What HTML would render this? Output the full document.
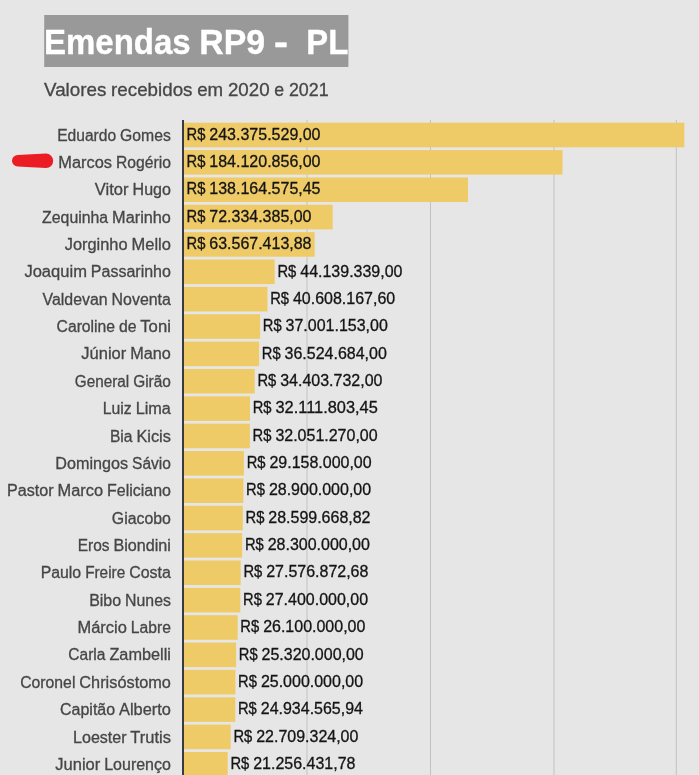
<!DOCTYPE html>
<html lang="pt-BR">
<head>
<meta charset="utf-8">
<title>Emendas RP9 - PL</title>
<style>
html,body{margin:0;padding:0;background:#e6e6e6;}
body{width:699px;height:775px;overflow:hidden;position:relative;font-family:"Liberation Sans",sans-serif;}
svg{display:block;position:absolute;left:0;top:0;}
text{font-family:"Liberation Sans",sans-serif;white-space:pre;}
.lbl{font-size:16px;fill:#464646;stroke:#464646;stroke-width:0.3px;}
.val{font-size:16px;fill:#141414;stroke:#141414;stroke-width:0.3px;}
.ttl{stroke:#ffffff;stroke-width:0.4px;}
.sub{stroke:#464646;stroke-width:0.3px;}
.bar{fill:#efcb68;}
.grid{stroke:#c2c2c2;stroke-width:1;}
</style>
</head>
<body>
<svg width="699" height="775" viewBox="0 0 699 775">
<rect x="0" y="0" width="699" height="775" fill="#e6e6e6"/>
<g id="header">
<rect x="44.2" y="15" width="304.2" height="52" fill="#999999"/>
<text class="ttl" y="53.9" font-size="35.4" font-weight="700" fill="#ffffff"><tspan x="44.00" textLength="146.56" lengthAdjust="spacingAndGlyphs">Emendas</tspan> <tspan x="199.34" textLength="65.80" lengthAdjust="spacingAndGlyphs">RP9</tspan> <tspan x="273.92" textLength="13.97" lengthAdjust="spacingAndGlyphs">-</tspan> <tspan x="306.27" textLength="41.97" lengthAdjust="spacingAndGlyphs">PL</tspan></text>
<text class="sub" y="95.5" font-size="18.2" fill="#464646"><tspan x="44.00" textLength="62.36" lengthAdjust="spacingAndGlyphs">Valores</tspan> <tspan x="111.11" textLength="81.36" lengthAdjust="spacingAndGlyphs">recebidos</tspan> <tspan x="197.22" textLength="25.94" lengthAdjust="spacingAndGlyphs">em</tspan> <tspan x="227.91" textLength="41.69" lengthAdjust="spacingAndGlyphs">2020</tspan> <tspan x="274.34" textLength="9.86" lengthAdjust="spacingAndGlyphs">e</tspan> <tspan x="288.95" textLength="39.67" lengthAdjust="spacingAndGlyphs">2021</tspan></text>
</g>
<g id="grid">
<line class="grid" x1="307.0" y1="120" x2="307.0" y2="775"/>
<line class="grid" x1="430.5" y1="120" x2="430.5" y2="775"/>
<line class="grid" x1="554.0" y1="120" x2="554.0" y2="775"/>
<line class="grid" x1="676.3" y1="120" x2="676.3" y2="775"/>
</g>
<g id="bars">
<rect class="bar" x="184.0" y="122.70" width="500.3" height="24.6"/>
<rect class="bar" x="184.0" y="150.06" width="378.5" height="24.6"/>
<rect class="bar" x="184.0" y="177.42" width="284.0" height="24.6"/>
<rect class="bar" x="184.0" y="204.78" width="148.7" height="24.6"/>
<rect class="bar" x="184.0" y="232.14" width="130.7" height="24.6"/>
<rect class="bar" x="184.0" y="259.50" width="90.7" height="24.6"/>
<rect class="bar" x="184.0" y="286.86" width="83.5" height="24.6"/>
<rect class="bar" x="184.0" y="314.22" width="76.1" height="24.6"/>
<rect class="bar" x="184.0" y="341.58" width="75.1" height="24.6"/>
<rect class="bar" x="184.0" y="368.94" width="70.7" height="24.6"/>
<rect class="bar" x="184.0" y="396.30" width="66.0" height="24.6"/>
<rect class="bar" x="184.0" y="423.66" width="65.9" height="24.6"/>
<rect class="bar" x="184.0" y="451.02" width="59.9" height="24.6"/>
<rect class="bar" x="184.0" y="478.38" width="59.4" height="24.6"/>
<rect class="bar" x="184.0" y="505.74" width="58.8" height="24.6"/>
<rect class="bar" x="184.0" y="533.10" width="58.2" height="24.6"/>
<rect class="bar" x="184.0" y="560.46" width="56.7" height="24.6"/>
<rect class="bar" x="184.0" y="587.82" width="56.3" height="24.6"/>
<rect class="bar" x="184.0" y="615.18" width="53.7" height="24.6"/>
<rect class="bar" x="184.0" y="642.54" width="52.1" height="24.6"/>
<rect class="bar" x="184.0" y="669.90" width="51.4" height="24.6"/>
<rect class="bar" x="184.0" y="697.26" width="51.3" height="24.6"/>
<rect class="bar" x="184.0" y="724.62" width="46.7" height="24.6"/>
<rect class="bar" x="184.0" y="751.98" width="43.7" height="24.6"/>
</g>
<rect x="182" y="120" width="2" height="655" fill="#3a3a41"/>
<g id="labels">
<text class="lbl" y="140.60"><tspan x="57.21" textLength="58.92" lengthAdjust="spacingAndGlyphs">Eduardo</tspan> <tspan x="120.09" textLength="50.81" lengthAdjust="spacingAndGlyphs">Gomes</tspan></text>
<text class="lbl" y="167.96"><tspan x="58.34" textLength="53.70" lengthAdjust="spacingAndGlyphs">Marcos</tspan> <tspan x="116.01" textLength="54.89" lengthAdjust="spacingAndGlyphs">Rogério</tspan></text>
<text class="lbl" y="195.32"><tspan x="94.88" textLength="33.70" lengthAdjust="spacingAndGlyphs">Vitor</tspan> <tspan x="132.56" textLength="38.34" lengthAdjust="spacingAndGlyphs">Hugo</tspan></text>
<text class="lbl" y="222.68"><tspan x="42.10" textLength="66.06" lengthAdjust="spacingAndGlyphs">Zequinha</tspan> <tspan x="112.13" textLength="58.77" lengthAdjust="spacingAndGlyphs">Marinho</tspan></text>
<text class="lbl" y="250.04"><tspan x="64.70" textLength="62.88" lengthAdjust="spacingAndGlyphs">Jorginho</tspan> <tspan x="131.54" textLength="39.36" lengthAdjust="spacingAndGlyphs">Mello</tspan></text>
<text class="lbl" y="277.40"><tspan x="24.42" textLength="62.50" lengthAdjust="spacingAndGlyphs">Joaquim</tspan> <tspan x="90.87" textLength="80.03" lengthAdjust="spacingAndGlyphs">Passarinho</tspan></text>
<text class="lbl" y="304.76"><tspan x="42.60" textLength="65.00" lengthAdjust="spacingAndGlyphs">Valdevan</tspan> <tspan x="111.57" textLength="59.33" lengthAdjust="spacingAndGlyphs">Noventa</tspan></text>
<text class="lbl" y="332.12"><tspan x="56.53" textLength="58.61" lengthAdjust="spacingAndGlyphs">Caroline</tspan> <tspan x="119.10" textLength="17.52" lengthAdjust="spacingAndGlyphs">de</tspan> <tspan x="140.26" textLength="30.64" lengthAdjust="spacingAndGlyphs">Toni</tspan></text>
<text class="lbl" y="359.48"><tspan x="81.37" textLength="44.92" lengthAdjust="spacingAndGlyphs">Júnior</tspan> <tspan x="130.26" textLength="40.64" lengthAdjust="spacingAndGlyphs">Mano</tspan></text>
<text class="lbl" y="386.84"><tspan x="74.79" textLength="54.41" lengthAdjust="spacingAndGlyphs">General</tspan> <tspan x="133.17" textLength="37.73" lengthAdjust="spacingAndGlyphs">Girão</tspan></text>
<text class="lbl" y="414.20"><tspan x="102.76" textLength="28.92" lengthAdjust="spacingAndGlyphs">Luiz</tspan> <tspan x="135.65" textLength="35.25" lengthAdjust="spacingAndGlyphs">Lima</tspan></text>
<text class="lbl" y="441.56"><tspan x="109.92" textLength="22.56" lengthAdjust="spacingAndGlyphs">Bia</tspan> <tspan x="136.45" textLength="34.45" lengthAdjust="spacingAndGlyphs">Kicis</tspan></text>
<text class="lbl" y="468.92"><tspan x="55.32" textLength="72.75" lengthAdjust="spacingAndGlyphs">Domingos</tspan> <tspan x="132.04" textLength="38.86" lengthAdjust="spacingAndGlyphs">Sávio</tspan></text>
<text class="lbl" y="496.28"><tspan x="7.04" textLength="46.59" lengthAdjust="spacingAndGlyphs">Pastor</tspan> <tspan x="57.60" textLength="45.45" lengthAdjust="spacingAndGlyphs">Marco</tspan> <tspan x="107.01" textLength="63.89" lengthAdjust="spacingAndGlyphs">Feliciano</tspan></text>
<text class="lbl" y="523.64"><tspan x="111.79" textLength="59.11" lengthAdjust="spacingAndGlyphs">Giacobo</tspan></text>
<text class="lbl" y="551.00"><tspan x="77.73" textLength="31.75" lengthAdjust="spacingAndGlyphs">Eros</tspan> <tspan x="113.43" textLength="57.47" lengthAdjust="spacingAndGlyphs">Biondini</tspan></text>
<text class="lbl" y="578.36"><tspan x="40.63" textLength="40.55" lengthAdjust="spacingAndGlyphs">Paulo</tspan> <tspan x="85.15" textLength="40.05" lengthAdjust="spacingAndGlyphs">Freire</tspan> <tspan x="129.17" textLength="41.73" lengthAdjust="spacingAndGlyphs">Costa</tspan></text>
<text class="lbl" y="605.72"><tspan x="89.15" textLength="31.97" lengthAdjust="spacingAndGlyphs">Bibo</tspan> <tspan x="125.09" textLength="45.81" lengthAdjust="spacingAndGlyphs">Nunes</tspan></text>
<text class="lbl" y="633.08"><tspan x="77.53" textLength="49.34" lengthAdjust="spacingAndGlyphs">Márcio</tspan> <tspan x="130.82" textLength="40.08" lengthAdjust="spacingAndGlyphs">Labre</tspan></text>
<text class="lbl" y="660.44"><tspan x="68.34" textLength="37.14" lengthAdjust="spacingAndGlyphs">Carla</tspan> <tspan x="109.43" textLength="61.47" lengthAdjust="spacingAndGlyphs">Zambelli</tspan></text>
<text class="lbl" y="687.80"><tspan x="20.24" textLength="55.14" lengthAdjust="spacingAndGlyphs">Coronel</tspan> <tspan x="79.35" textLength="91.55" lengthAdjust="spacingAndGlyphs">Chrisóstomo</tspan></text>
<text class="lbl" y="715.16"><tspan x="60.06" textLength="55.06" lengthAdjust="spacingAndGlyphs">Capitão</tspan> <tspan x="119.07" textLength="51.83" lengthAdjust="spacingAndGlyphs">Alberto</tspan></text>
<text class="lbl" y="742.52"><tspan x="73.03" textLength="53.62" lengthAdjust="spacingAndGlyphs">Loester</tspan> <tspan x="130.31" textLength="40.59" lengthAdjust="spacingAndGlyphs">Trutis</tspan></text>
<text class="lbl" y="769.88"><tspan x="55.35" textLength="44.92" lengthAdjust="spacingAndGlyphs">Junior</tspan> <tspan x="104.24" textLength="66.66" lengthAdjust="spacingAndGlyphs">Lourenço</tspan></text>
</g>
<g id="values">
<text class="val" y="139.70"><tspan x="186.50" textLength="18.86" lengthAdjust="spacingAndGlyphs">R$</tspan> <tspan x="209.31" textLength="111.22" lengthAdjust="spacingAndGlyphs">243.375.529,00</tspan></text>
<text class="val" y="167.06"><tspan x="186.50" textLength="18.86" lengthAdjust="spacingAndGlyphs">R$</tspan> <tspan x="209.31" textLength="111.22" lengthAdjust="spacingAndGlyphs">184.120.856,00</tspan></text>
<text class="val" y="194.42"><tspan x="186.50" textLength="18.86" lengthAdjust="spacingAndGlyphs">R$</tspan> <tspan x="209.31" textLength="111.22" lengthAdjust="spacingAndGlyphs">138.164.575,45</tspan></text>
<text class="val" y="221.78"><tspan x="186.50" textLength="18.86" lengthAdjust="spacingAndGlyphs">R$</tspan> <tspan x="209.31" textLength="102.22" lengthAdjust="spacingAndGlyphs">72.334.385,00</tspan></text>
<text class="val" y="249.14"><tspan x="186.50" textLength="18.86" lengthAdjust="spacingAndGlyphs">R$</tspan> <tspan x="209.31" textLength="102.22" lengthAdjust="spacingAndGlyphs">63.567.413,88</tspan></text>
<text class="val" y="276.50"><tspan x="277.44" textLength="18.86" lengthAdjust="spacingAndGlyphs">R$</tspan> <tspan x="300.25" textLength="102.22" lengthAdjust="spacingAndGlyphs">44.139.339,00</tspan></text>
<text class="val" y="303.86"><tspan x="270.18" textLength="18.86" lengthAdjust="spacingAndGlyphs">R$</tspan> <tspan x="292.99" textLength="102.22" lengthAdjust="spacingAndGlyphs">40.608.167,60</tspan></text>
<text class="val" y="331.22"><tspan x="262.76" textLength="18.86" lengthAdjust="spacingAndGlyphs">R$</tspan> <tspan x="285.58" textLength="102.22" lengthAdjust="spacingAndGlyphs">37.001.153,00</tspan></text>
<text class="val" y="358.58"><tspan x="261.78" textLength="18.86" lengthAdjust="spacingAndGlyphs">R$</tspan> <tspan x="284.60" textLength="102.22" lengthAdjust="spacingAndGlyphs">36.524.684,00</tspan></text>
<text class="val" y="385.94"><tspan x="257.42" textLength="18.86" lengthAdjust="spacingAndGlyphs">R$</tspan> <tspan x="280.24" textLength="102.22" lengthAdjust="spacingAndGlyphs">34.403.732,00</tspan></text>
<text class="val" y="413.30"><tspan x="252.71" textLength="18.86" lengthAdjust="spacingAndGlyphs">R$</tspan> <tspan x="275.52" textLength="102.22" lengthAdjust="spacingAndGlyphs">32.111.803,45</tspan></text>
<text class="val" y="440.66"><tspan x="252.59" textLength="18.86" lengthAdjust="spacingAndGlyphs">R$</tspan> <tspan x="275.40" textLength="102.22" lengthAdjust="spacingAndGlyphs">32.051.270,00</tspan></text>
<text class="val" y="468.02"><tspan x="246.64" textLength="18.86" lengthAdjust="spacingAndGlyphs">R$</tspan> <tspan x="269.45" textLength="102.22" lengthAdjust="spacingAndGlyphs">29.158.000,00</tspan></text>
<text class="val" y="495.38"><tspan x="246.11" textLength="18.86" lengthAdjust="spacingAndGlyphs">R$</tspan> <tspan x="268.92" textLength="102.22" lengthAdjust="spacingAndGlyphs">28.900.000,00</tspan></text>
<text class="val" y="522.74"><tspan x="245.49" textLength="18.86" lengthAdjust="spacingAndGlyphs">R$</tspan> <tspan x="268.30" textLength="102.22" lengthAdjust="spacingAndGlyphs">28.599.668,82</tspan></text>
<text class="val" y="550.10"><tspan x="244.88" textLength="18.86" lengthAdjust="spacingAndGlyphs">R$</tspan> <tspan x="267.69" textLength="102.22" lengthAdjust="spacingAndGlyphs">28.300.000,00</tspan></text>
<text class="val" y="577.46"><tspan x="243.39" textLength="18.86" lengthAdjust="spacingAndGlyphs">R$</tspan> <tspan x="266.20" textLength="102.22" lengthAdjust="spacingAndGlyphs">27.576.872,68</tspan></text>
<text class="val" y="604.82"><tspan x="243.03" textLength="18.86" lengthAdjust="spacingAndGlyphs">R$</tspan> <tspan x="265.84" textLength="102.22" lengthAdjust="spacingAndGlyphs">27.400.000,00</tspan></text>
<text class="val" y="632.18"><tspan x="240.35" textLength="18.86" lengthAdjust="spacingAndGlyphs">R$</tspan> <tspan x="263.17" textLength="102.22" lengthAdjust="spacingAndGlyphs">26.100.000,00</tspan></text>
<text class="val" y="659.54"><tspan x="238.75" textLength="18.86" lengthAdjust="spacingAndGlyphs">R$</tspan> <tspan x="261.56" textLength="102.22" lengthAdjust="spacingAndGlyphs">25.320.000,00</tspan></text>
<text class="val" y="686.90"><tspan x="238.09" textLength="18.86" lengthAdjust="spacingAndGlyphs">R$</tspan> <tspan x="260.90" textLength="102.22" lengthAdjust="spacingAndGlyphs">25.000.000,00</tspan></text>
<text class="val" y="714.26"><tspan x="237.96" textLength="18.86" lengthAdjust="spacingAndGlyphs">R$</tspan> <tspan x="260.77" textLength="102.22" lengthAdjust="spacingAndGlyphs">24.934.565,94</tspan></text>
<text class="val" y="741.62"><tspan x="233.38" textLength="18.86" lengthAdjust="spacingAndGlyphs">R$</tspan> <tspan x="256.20" textLength="102.22" lengthAdjust="spacingAndGlyphs">22.709.324,00</tspan></text>
<text class="val" y="768.98"><tspan x="230.40" textLength="18.86" lengthAdjust="spacingAndGlyphs">R$</tspan> <tspan x="253.21" textLength="102.22" lengthAdjust="spacingAndGlyphs">21.256.431,78</tspan></text>
</g>
<path id="mark" d="M17.7,155.1 L46,153.6 A7.2,7.2 0 0 1 46,168 L17.7,166.5 A5.7,5.7 0 0 1 17.7,155.1 Z" fill="#ec1c24"/>
</svg>
</body>
</html>
